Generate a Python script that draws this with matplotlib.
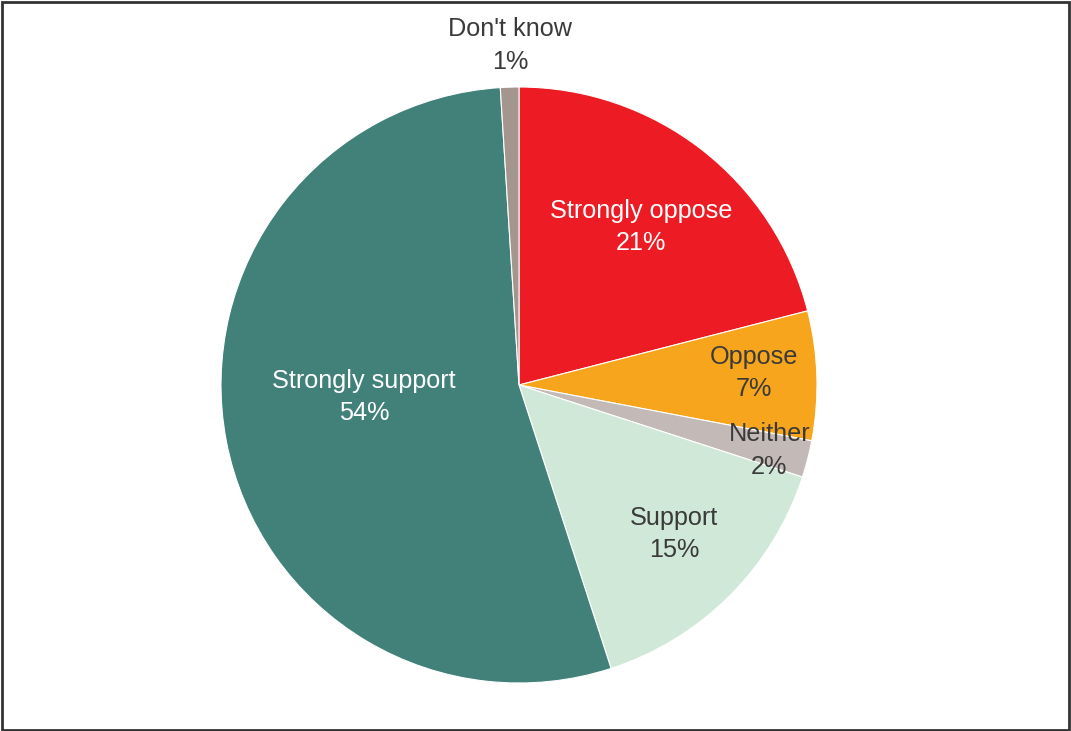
import matplotlib
matplotlib.use("Agg")
import matplotlib.pyplot as plt
import numpy as np

categories = ["Strongly oppose", "Oppose", "Neither", "Support", "Strongly support", "Don't know"]
shares = [21, 7, 2, 15, 54, 1]
colors = ["#ED1C24", "#F7A51C", "#C3B9B7", "#CFE8D7", "#42817A", "#A5958F"]
text_colors = ["white", "#3a3a3a", "#3a3a3a", "#3a3a3a", "white", "#3a3a3a"]
# label anchor positions in units of the pie radius
label_xy = [(0.41, 0.53), (0.79, 0.04), (0.84, -0.22), (0.52, -0.50), (-0.52, -0.04), (-0.03, 1.14)]

W, H = 1071, 731
fig = plt.figure(figsize=(W / 100, H / 100), dpi=100)
cx, cy, r = 519, H - 385, 298
ax = fig.add_axes([(cx - r) / W, (cy - r) / H, 2 * r / W, 2 * r / H])

ax.pie(shares, colors=colors, startangle=90, counterclock=False, radius=1,
       wedgeprops=dict(edgecolor="white", linewidth=0.8))
ax.set_xlim(-1, 1)
ax.set_ylim(-1, 1)
ax.set_aspect("equal")
ax.axis("off")

for cat, val, (x, y), tc in zip(categories, shares, label_xy, text_colors):
    ax.text(x, y, f"{cat}\n{val}%", ha="center", va="center", color=tc,
            fontsize=18.2, family="Liberation Sans", linespacing=1.45, clip_on=False)

# outer frame
frame = plt.Rectangle((2 / W, 1 / H), (W - 4) / W, (H - 3) / H, transform=fig.transFigure,
                      fill=False, edgecolor="#333333", linewidth=2)
fig.patches.append(frame)

fig.savefig("out.png", dpi=100, facecolor="white")
